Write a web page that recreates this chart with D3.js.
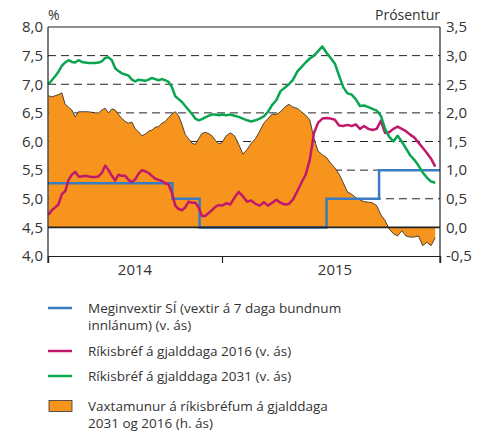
<!DOCTYPE html>
<html>
<head>
<meta charset="utf-8">
<script src="https://cdn.jsdelivr.net/npm/d3@7"></script>
<style>
  body { margin: 0; background: #fff; }
  svg text { font-family: "Open Sans", sans-serif; fill: #333; }
</style>
</head>
<body>
<svg id="chart"></svg>
<script>
// weekly observations
const dates = (
  "2014-01-02 2014-01-09 2014-01-16 2014-01-23 2014-01-30 2014-02-06 2014-02-13 2014-02-20 2014-02-27 " +
  "2014-03-06 2014-03-13 2014-03-20 2014-03-27 2014-04-03 2014-04-10 2014-04-17 2014-04-24 2014-05-01 " +
  "2014-05-08 2014-05-15 2014-05-22 2014-05-29 2014-06-05 2014-06-12 2014-06-19 2014-06-26 2014-07-03 " +
  "2014-07-10 2014-07-17 2014-07-24 2014-07-31 2014-08-07 2014-08-14 2014-08-21 2014-08-28 2014-09-04 " +
  "2014-09-11 2014-09-18 2014-09-25 2014-10-02 2014-10-09 2014-10-16 2014-10-23 2014-10-30 2014-11-06 " +
  "2014-11-13 2014-11-20 2014-11-27 2014-12-04 2014-12-11 2014-12-18 2014-12-25 " +
  "2015-01-01 2015-01-08 2015-01-15 2015-01-22 2015-01-29 2015-02-05 2015-02-12 2015-02-19 2015-02-26 " +
  "2015-03-05 2015-03-12 2015-03-19 2015-03-26 2015-04-02 2015-04-09 2015-04-16 2015-04-23 2015-04-30 " +
  "2015-05-07 2015-05-14 2015-05-21 2015-05-28 2015-06-04 2015-06-11 2015-06-18 2015-06-25 2015-07-02 " +
  "2015-07-09 2015-07-16 2015-07-23 2015-07-30 2015-08-06 2015-08-13 2015-08-20 2015-08-27 2015-09-03 " +
  "2015-09-10 2015-09-17 2015-09-24 2015-10-01 2015-10-08 2015-10-15 2015-10-22 2015-10-29 2015-11-05 " +
  "2015-11-12 2015-11-19 2015-11-26 2015-12-03 2015-12-10 2015-12-17 2015-12-24"
).split(" ");

// Ríkisbréf 2031 (v. ás)
const bond2031 = [
  7.00, 7.07, 7.14, 7.22, 7.32, 7.38, 7.42, 7.39, 7.38, 7.42, 7.39, 7.38, 7.37,
  7.37, 7.37, 7.38, 7.40, 7.46, 7.47, 7.42, 7.28, 7.23, 7.19, 7.17, 7.15, 7.08,
  7.05, 7.08, 7.07, 7.06, 7.08, 7.11, 7.09, 7.07, 7.09, 7.07, 7.04, 6.95, 6.79,
  6.74, 6.69, 6.62, 6.55, 6.48, 6.40, 6.37, 6.39, 6.42, 6.45, 6.47, 6.47, 6.46,
  6.47, 6.46, 6.47, 6.45, 6.43, 6.40, 6.37, 6.35, 6.37, 6.40, 6.44, 6.52, 6.64,
  6.72, 6.88, 6.94, 7.00, 7.08, 7.22, 7.30, 7.38, 7.45, 7.50, 7.58, 7.66, 7.55,
  7.46, 7.36, 7.15, 6.95, 6.84, 6.82, 6.74, 6.62, 6.63, 6.60, 6.57, 6.54, 6.45,
  6.22, 6.08, 6.00, 6.10, 6.00, 5.88, 5.76, 5.68, 5.58, 5.46, 5.37, 5.30, 5.28
];

// Ríkisbréf 2016 (v. ás)
const bond2016 = [
  4.72, 4.80, 4.85, 4.90, 5.08, 5.13, 5.33, 5.42, 5.47, 5.39, 5.39, 5.40, 5.39,
  5.38, 5.38, 5.39, 5.45, 5.58, 5.50, 5.40, 5.32, 5.42, 5.40, 5.40, 5.33, 5.29,
  5.34, 5.44, 5.50, 5.48, 5.45, 5.40, 5.35, 5.33, 5.31, 5.27, 5.25, 5.10, 4.88,
  4.82, 4.80, 4.85, 4.95, 4.93, 4.93, 4.85, 4.70, 4.70, 4.75, 4.80, 4.86, 4.89,
  4.88, 4.92, 4.90, 5.02, 5.12, 5.04, 4.95, 4.97, 4.91, 4.88, 4.94, 4.88, 4.93,
  4.98, 4.93, 4.90, 4.91, 4.99, 5.13, 5.28, 5.42, 5.68, 6.15, 6.33, 6.40, 6.41,
  6.40, 6.38, 6.28, 6.27, 6.29, 6.27, 6.30, 6.22, 6.27, 6.22, 6.20, 6.22, 6.36,
  6.15, 6.16, 6.22, 6.26, 6.22, 6.18, 6.12, 6.07, 5.98, 5.89, 5.80, 5.70, 5.56
];

// Vaxtamunur 2031 og 2016 (h. ás)
const spread = [
  2.30, 2.28, 2.30, 2.32, 2.35, 2.15, 2.10, 2.05, 1.93, 2.02, 2.02, 2.02, 2.02,
  2.01, 2.00, 2.00, 2.05, 2.08, 2.00, 2.07, 2.05, 1.97, 1.90, 1.85, 1.82, 1.84,
  1.72, 1.67, 1.60, 1.63, 1.68, 1.70, 1.75, 1.76, 1.82, 1.85, 1.92, 1.98, 2.02,
  1.95, 1.80, 1.62, 1.55, 1.47, 1.45, 1.55, 1.64, 1.66, 1.64, 1.60, 1.52, 1.46,
  1.48, 1.60, 1.65, 1.60, 1.45, 1.28, 1.36, 1.47, 1.55, 1.68, 1.82, 1.90, 1.98,
  1.97, 2.02, 2.10, 2.15, 2.10, 2.08, 2.02, 1.96, 1.88, 1.55, 1.33, 1.27, 1.22,
  1.12, 1.04, 0.93, 0.78, 0.62, 0.58, 0.52, 0.48, 0.45, 0.44, 0.43, 0.38, 0.22,
  0.12, -0.03, -0.11, -0.15, -0.06, -0.15, -0.17, -0.17, -0.15, -0.32, -0.26, -0.32, -0.18
];

// Meginvextir SÍ (v. ás), step changes
const policyDates = ["2014-01-01", "2014-09-19", "2014-11-15", "2015-06-25", "2015-09-21", "2016-01-01"];
const policyRate = [5.27, 5.0, 4.5, 5.0, 5.5, 5.5];

const leftTicks = [4.0, 4.5, 5.0, 5.5, 6.0, 6.5, 7.0, 7.5, 8.0];
const rightTicks = [-0.5, 0.0, 0.5, 1.0, 1.5, 2.0, 2.5, 3.0, 3.5];
const gridValues = [5.0, 5.5, 6.0, 6.5, 7.0, 7.5];
const yearBounds = ["2014-01-01", "2015-01-01", "2016-01-01"];
const yearLabels = ["2014", "2015"];

const legendItems = [
  { type: "line", color: "#3a7cc1", lines: ["Meginvextir SÍ (vextir á 7 daga bundnum", "innlánum) (v. ás)"] },
  { type: "line", color: "#c0196c", lines: ["Ríkisbréf á gjalddaga 2016 (v. ás)"] },
  { type: "line", color: "#0aa550", lines: ["Ríkisbréf á gjalddaga 2031 (v. ás)"] },
  { type: "rect", color: "#f7941d", lines: ["Vaxtamunur á ríkisbréfum á gjalddaga", "2031 og 2016 (h. ás)"] }
];

const width = 488;
const height = 435;
const margin = { top: 27, right: 48, bottom: 179, left: 48 };

const parse = d3.timeParse("%Y-%m-%d");
const fmt = v => d3.format(".1f")(v).replace(".", ",").replace("−", "-");

const svg = d3.select("#chart")
  .attr("width", width)
  .attr("height", height);

const x = d3.scaleTime()
  .domain(yearBounds.map(parse))
  .range([margin.left, 222, width - margin.right]);

const yL = d3.scaleLinear()
  .domain([4, 8])
  .range([height - margin.bottom, margin.top]);

const yR = d3.scaleLinear()
  .domain([-0.5, 3.5])
  .range([height - margin.bottom, margin.top]);

const data = dates.map((d, i) => ({
  date: parse(d),
  b31: bond2031[i],
  b16: bond2016[i],
  spread: spread[i]
}));

const policy = policyDates.map((d, i) => ({ date: parse(d), v: policyRate[i] }));

const x0 = margin.left, x1 = width - margin.right;
const yTop = margin.top, yBot = height - margin.bottom;

// Gridlines
svg.append("g")
  .selectAll("line")
  .data(gridValues)
  .enter()
  .append("line")
  .attr("x1", x0)
  .attr("x2", x1)
  .attr("y1", d => yL(d))
  .attr("y2", d => yL(d))
  .attr("stroke", "#222")
  .attr("stroke-width", 1)
  .attr("stroke-dasharray", "8,5");

// Spread area (right axis)
svg.append("path")
  .datum(data)
  .attr("fill", "#f7941d")
  .attr("d", d3.area()
    .x(d => x(d.date))
    .y0(yR(0))
    .y1(d => yR(d.spread)));

svg.append("path")
  .datum(data)
  .attr("fill", "none")
  .attr("stroke", "#222")
  .attr("stroke-width", 0.8)
  .attr("d", d3.line()
    .x(d => x(d.date))
    .y(d => yR(d.spread)));

// Policy rate
svg.append("path")
  .datum(policy)
  .attr("fill", "none")
  .attr("stroke", "#3a7cc1")
  .attr("stroke-width", 2.5)
  .attr("d", d3.line()
    .curve(d3.curveStepAfter)
    .x(d => x(d.date))
    .y(d => yL(d.v)));

// Zero line of right axis
svg.append("line")
  .attr("x1", x0)
  .attr("x2", x1)
  .attr("y1", yR(0))
  .attr("y2", yR(0))
  .attr("stroke", "#222")
  .attr("stroke-width", 1.6);

// Bond yields
const bondLine = key => d3.line()
  .x(d => x(d.date))
  .y(d => yL(d[key]));

svg.append("path")
  .datum(data)
  .attr("fill", "none")
  .attr("stroke", "#c0196c")
  .attr("stroke-width", 2.5)
  .attr("stroke-linejoin", "round")
  .attr("d", bondLine("b16"));

svg.append("path")
  .datum(data)
  .attr("fill", "none")
  .attr("stroke", "#0aa550")
  .attr("stroke-width", 2.5)
  .attr("stroke-linejoin", "round")
  .attr("d", bondLine("b31"));

// Frame
svg.append("line")
  .attr("x1", x0).attr("x2", x1)
  .attr("y1", yTop).attr("y2", yTop)
  .attr("stroke", "#222").attr("stroke-width", 1.2);

// Axes
const axisLeft = svg.append("g")
  .attr("transform", `translate(${x0},0)`)
  .call(d3.axisLeft(yL).tickValues(leftTicks).tickSize(0).tickPadding(5).tickFormat(fmt));

const axisRight = svg.append("g")
  .attr("transform", `translate(${x1},0)`)
  .call(d3.axisRight(yR).tickValues(rightTicks).tickSize(0).tickPadding(6).tickFormat(fmt));

const axisBottom = svg.append("g")
  .attr("transform", `translate(0,${yBot})`)
  .call(d3.axisBottom(x).tickValues(yearBounds.map(parse)).tickSize(7).tickFormat(""));

[axisLeft, axisRight, axisBottom].forEach(g => {
  g.select(".domain").attr("stroke", "#222").attr("stroke-width", 1.2);
  g.selectAll(".tick line").attr("stroke", "#222").attr("stroke-width", 1.2);
  g.selectAll("text")
    .style("font-family", "'Open Sans', sans-serif")
    .style("font-size", "15px")
    .attr("fill", "#333");
});
axisLeft.select(".domain").attr("d", `M0,${yTop}V${yBot + 7}`);
axisRight.select(".domain").attr("d", `M0,${yTop}V${yBot + 7}`);

// Year labels, centred in each interval
svg.append("g")
  .selectAll("text")
  .data(yearLabels)
  .enter()
  .append("text")
  .attr("x", (d, i) => (x(parse(yearBounds[i])) + x(parse(yearBounds[i + 1]))) / 2 + i * 4)
  .attr("y", yBot + 19)
  .attr("text-anchor", "middle")
  .style("font-size", "15px")
  .text(d => d);

// Axis titles
svg.append("text")
  .attr("x", x0)
  .attr("y", 20)
  .style("font-size", "14px")
  .text("%");

svg.append("text")
  .attr("x", x1)
  .attr("y", 20)
  .attr("text-anchor", "end")
  .style("font-size", "14px")
  .text("Prósentur");

// Legend
const legendY = [308, 351, 376, 406];
const legend = svg.append("g").attr("class", "legend");

legendItems.forEach((item, i) => {
  const g = legend.append("g").attr("transform", `translate(48,${legendY[i]})`);
  if (item.type === "line") {
    g.append("line")
      .attr("x1", 0).attr("x2", 24)
      .attr("stroke", item.color)
      .attr("stroke-width", 2.5);
  } else {
    g.append("rect")
      .attr("x", 1).attr("y", -5.5)
      .attr("width", 23).attr("height", 11)
      .attr("fill", item.color)
      .attr("stroke", "#333")
      .attr("stroke-width", 0.8);
  }
  item.lines.forEach((t, j) => {
    g.append("text")
      .attr("x", 40)
      .attr("y", 5 + j * 17)
      .style("font-size", "13.5px")
      .text(t);
  });
});
</script>
</body>
</html>
